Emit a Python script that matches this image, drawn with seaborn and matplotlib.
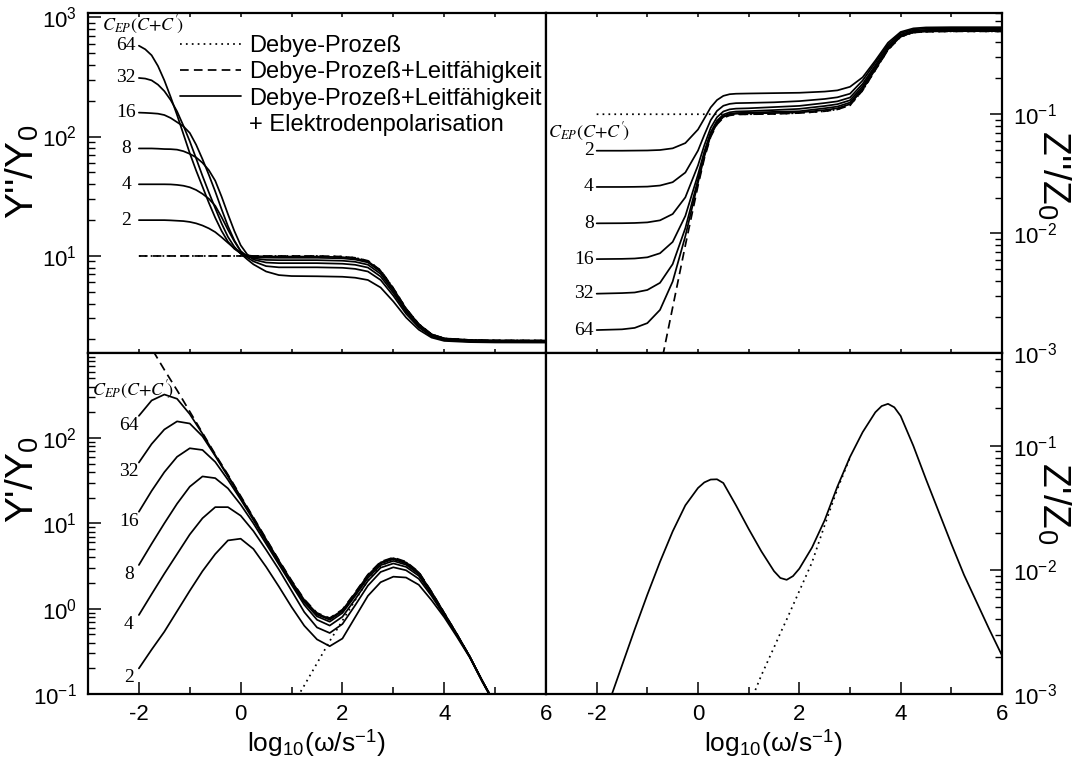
import numpy as np
import matplotlib
matplotlib.use("Agg")
import matplotlib.pyplot as plt
import seaborn as sns
from matplotlib.lines import Line2D
from matplotlib.ticker import FixedLocator, LogLocator, LogFormatterSciNotation, NullFormatter

sns.set_theme(style="ticks")
plt.rcParams["font.family"] = ["Liberation Sans", "DejaVu Sans"]
plt.rcParams["mathtext.fontset"] = "stix"
plt.rcParams["axes.unicode_minus"] = False
for k in ["axes.edgecolor", "text.color", "axes.labelcolor", "xtick.color", "ytick.color"]:
    plt.rcParams[k] = "black"

# ---------------- data (log10 of the plotted quantity) ----------------
CEP = [64, 32, 16, 8, 4, 2]
nan = float("nan")

# top-left: Y''/Y0
tl_x = [-2.0, -1.875, -1.75, -1.625, -1.5, -1.375, -1.25, -1.125, -1.0, -0.875, -0.75, -0.625, -0.5,
        -0.375, -0.25, -0.125, 0.0, 0.125, 0.25,
        0.5, 0.75, 1.0, 1.5, 2.0, 2.25, 2.5, 2.75, 3.0, 3.25, 3.5, 3.75, 4.0, 4.5, 5.0, 6.0]
tl_debye = [1.0, 1.0, 1.0, 1.0, 1.0, 1.0, 1.0, 1.0, 1.0, 1.0, 1.0, 1.0, 1.0, 1.0, 1.0, 1.0, 1.0, 1.0, 1.0,
            1.0, 1.0, 1.0, 1.0, 0.995, 0.985, 0.96, 0.88, 0.73, 0.56, 0.43, 0.345, 0.31, 0.297, 0.293, 0.292]
tl_cond = [1.0, 1.0, 1.0, 1.0, 1.0, 1.0, 1.0, 1.0, 1.0, 1.0, 1.0, 1.0, 1.0, 1.0, 1.0, 1.0, 1.0, 1.0, 1.0,
           1.0, 1.0, 1.0, 1.0, 0.995, 0.985, 0.96, 0.88, 0.73, 0.56, 0.43, 0.345, 0.31, 0.297, 0.293, 0.292]
tl_64 = [2.76, 2.73, 2.68, 2.59, 2.47, 2.33, 2.18, 2.02, 1.86, 1.715, 1.58, 1.445, 1.32,
         1.21, 1.12, 1.06, 1.025, 1.006, 0.999,
         0.996, 0.995, 0.995, 0.995, 0.990, 0.980, 0.956, 0.875, 0.727, 0.558, 0.429, 0.345, 0.310, 0.297, 0.293, 0.292]
tl_32 = [2.49, 2.485, 2.47, 2.434, 2.38, 2.305, 2.21, 2.09, 1.96, 1.816, 1.67, 1.532, 1.40,
         1.272, 1.16, 1.077, 1.02, 0.997, 0.99,
         0.986, 0.985, 0.985, 0.985, 0.980, 0.970, 0.946, 0.867, 0.720, 0.553, 0.426, 0.342, 0.307, 0.295, 0.291, 0.290]
tl_16 = [2.20, 2.198, 2.195, 2.191, 2.18, 2.155, 2.12, 2.085, 2.03, 1.931, 1.81, 1.679, 1.54,
         1.391, 1.25, 1.131, 1.04, 0.998, 0.98,
         0.967, 0.965, 0.965, 0.965, 0.960, 0.951, 0.927, 0.850, 0.707, 0.543, 0.419, 0.338, 0.304, 0.292, 0.288, 0.287]
tl_8 = [1.90, 1.90, 1.90, 1.898, 1.895, 1.894, 1.89, 1.877, 1.855, 1.825, 1.78, 1.718, 1.63,
        1.497, 1.35, 1.21, 1.09, 1.015, 0.97,
        0.945, 0.94, 0.94, 0.94, 0.935, 0.926, 0.903, 0.828, 0.690, 0.532, 0.412, 0.333, 0.300, 0.289, 0.285, 0.284]
tl_4 = [1.60, 1.60, 1.60, 1.60, 1.60, 1.599, 1.595, 1.588, 1.575, 1.5525, 1.52, 1.479, 1.42,
        1.325, 1.22, 1.123, 1.04, 0.989, 0.955,
        0.915, 0.905, 0.905, 0.905, 0.901, 0.892, 0.870, 0.799, 0.667, 0.516, 0.402, 0.327, 0.296, 0.284, 0.281, 0.280]
tl_2 = [1.30, 1.30, 1.30, 1.30, 1.30, 1.298, 1.295, 1.292, 1.285, 1.273, 1.255, 1.231, 1.20,
        1.157, 1.11, 1.065, 1.02, 0.973, 0.93,
        0.87, 0.84, 0.832, 0.83, 0.826, 0.818, 0.799, 0.736, 0.619, 0.485, 0.383, 0.317, 0.289, 0.279, 0.276, 0.275]

# top-right: Z''/Z0
tr_x = [-2.0, -1.5, -1.25, -1.0, -0.75, -0.5, -0.25, 0.0, 0.125, 0.25, 0.375, 0.5, 0.625, 0.75,
        1.0, 1.5, 2.0, 2.5, 2.75, 3.0, 3.25, 3.5, 3.75, 4.0, 4.25, 4.5, 5.0, 6.0]
tr_debye = [-1.0, -1.0, -1.0, -1.0, -1.0, -1.0, -1.0, -1.0, -1.0, -1.0, -1.0, -1.0, -1.0, -1.0,
            -1.0, -0.998, -0.99, -0.975, -0.96, -0.925, -0.80, -0.63, -0.46, -0.35, -0.315, -0.308, -0.305, -0.305]
tr_cond = [nan, nan, nan, nan, -3.14, -2.62, -2.10, -1.60, -1.37, -1.19, -1.085, -1.03, -1.01, -1.003,
           -1.0, -0.998, -0.99, -0.975, -0.96, -0.925, -0.80, -0.63, -0.46, -0.35, -0.315, -0.308, -0.305, -0.305]
tr_64 = [-2.81, -2.804, -2.792, -2.752, -2.641, -2.403, -2.023, -1.574, -1.354, -1.179, -1.077, -1.023, -1.003, -0.996,
         -0.993, -0.99, -0.985, -0.965, -0.95, -0.916, -0.792, -0.624, -0.456, -0.348, -0.313, -0.306, -0.303, -0.303]
tr_32 = [-2.505, -2.50, -2.495, -2.474, -2.414, -2.257, -1.956, -1.549, -1.339, -1.169, -1.069, -1.016, -0.997, -0.99,
         -0.987, -0.98, -0.975, -0.95, -0.936, -0.902, -0.781, -0.615, -0.45, -0.344, -0.31, -0.303, -0.30, -0.30]
tr_16 = [-2.215, -2.213, -2.21, -2.20, -2.166, -2.071, -1.853, -1.506, -1.312, -1.151, -1.054, -1.003, -0.984, -0.977,
         -0.974, -0.965, -0.955, -0.931, -0.916, -0.883, -0.765, -0.603, -0.442, -0.338, -0.305, -0.298, -0.295, -0.295]
tr_8 = [-1.915, -1.914, -1.912, -1.907, -1.89, -1.837, -1.697, -1.429, -1.26, -1.115, -1.025, -0.977, -0.959, -0.953,
        -0.95, -0.94, -0.93, -0.906, -0.892, -0.86, -0.745, -0.589, -0.432, -0.332, -0.299, -0.293, -0.29, -0.29]
tr_4 = [-1.61, -1.61, -1.609, -1.607, -1.598, -1.57, -1.489, -1.305, -1.173, -1.05, -0.972, -0.929, -0.913, -0.907,
        -0.905, -0.90, -0.89, -0.872, -0.858, -0.828, -0.717, -0.567, -0.417, -0.32, -0.289, -0.282, -0.28, -0.28]
tr_2 = [-1.306, -1.306, -1.305, -1.304, -1.30, -1.286, -1.242, -1.128, -1.036, -0.943, -0.881, -0.846, -0.832, -0.828,
        -0.826, -0.823, -0.82, -0.81, -0.80, -0.77, -0.69, -0.55, -0.40, -0.31, -0.28, -0.272, -0.27, -0.27]

# bottom-left: Y'/Y0
bl_x = [-2.0, -1.75, -1.5, -1.25, -1.0, -0.75, -0.5, -0.25, 0.0, 0.25, 0.5, 0.75, 1.0, 1.25, 1.5,
        1.75, 2.0, 2.25, 2.5, 2.75, 3.0, 3.25, 3.5, 3.75, 4.0, 4.25, 4.5, 4.75, 5.0]
bl_debye = [nan, nan, nan, nan, nan, nan, nan, nan, nan, nan, nan, nan, -1.15, -0.90, -0.64,
            -0.38, -0.14, 0.10, 0.33, 0.50, 0.58, 0.54, 0.425, 0.195, -0.05, -0.30, -0.56, -0.85, -1.12]
bl_cond = [3.30, 3.05, 2.80, 2.56, 2.31, 2.06, 1.81, 1.57, 1.32, 1.07, 0.82, 0.57, 0.33, 0.11, -0.05,
           -0.11, -0.01, 0.19, 0.40, 0.55, 0.60, 0.55, 0.43, 0.20, -0.05, -0.30, -0.56, -0.85, -1.12]
bl_64 = [2.26, 2.44, 2.51, 2.46, 2.28, 2.05, 1.80, 1.56, 1.31, 1.062, 0.812, 0.562, 0.322, 0.102, -0.058,
         -0.118, -0.018, 0.182, 0.392, 0.542, 0.592, 0.542, 0.424, 0.196, -0.052, -0.30, -0.56, -0.85, -1.12]
bl_32 = [1.713, 1.93, 2.10, 2.195, 2.17, 2.02, 1.79, 1.55, 1.30, 1.05, 0.80, 0.55, 0.31, 0.09, -0.07,
         -0.13, -0.03, 0.17, 0.38, 0.53, 0.58, 0.53, 0.415, 0.19, -0.055, -0.30, -0.56, -0.85, -1.12]
bl_16 = [1.136, 1.38, 1.60, 1.78, 1.88, 1.86, 1.72, 1.51, 1.28, 1.04, 0.79, 0.54, 0.30, 0.075, -0.09,
         -0.153, -0.05, 0.15, 0.36, 0.51, 0.56, 0.515, 0.405, 0.185, -0.06, -0.305, -0.56, -0.85, -1.12]
bl_8 = [0.512, 0.76, 1.0, 1.23, 1.43, 1.55, 1.53, 1.41, 1.22, 1.0, 0.76, 0.52, 0.28, 0.045, -0.13,
        -0.198, -0.095, 0.11, 0.325, 0.48, 0.53, 0.49, 0.385, 0.17, -0.07, -0.31, -0.56, -0.85, -1.12]
bl_4 = [-0.074, 0.17, 0.41, 0.64, 0.87, 1.06, 1.19, 1.19, 1.09, 0.91, 0.69, 0.46, 0.21, -0.04, -0.22,
        -0.285, -0.18, 0.04, 0.27, 0.43, 0.485, 0.45, 0.35, 0.15, -0.08, -0.315, -0.565, -0.85, -1.12]
bl_2 = [-0.70, -0.48, -0.27, -0.03, 0.21, 0.44, 0.64, 0.80, 0.82, 0.70, 0.49, 0.26, 0.02, -0.20, -0.36,
        -0.44, -0.35, -0.10, 0.15, 0.31, 0.375, 0.365, 0.28, 0.10, -0.10, -0.33, -0.57, -0.86, -1.13]

# bottom-right: Z'/Z0
br_x = [-2.0, -1.75, -1.5, -1.25, -1.0, -0.75, -0.5, -0.25, 0.0, 0.125, 0.25, 0.375, 0.5, 0.75,
        1.0, 1.25, 1.5, 1.625, 1.75, 1.875, 2.0, 2.25, 2.5, 2.75, 3.0, 3.25, 3.5, 3.625, 3.75,
        3.875, 4.0, 4.25, 4.5, 4.75, 5.0, 5.25, 5.5, 5.75, 6.0]
br_total = [-3.35, -3.06, -2.77, -2.48, -2.20, -1.935, -1.69, -1.48, -1.34, -1.295, -1.272, -1.27, -1.30, -1.48,
            -1.67, -1.85, -2.01, -2.065, -2.08, -2.05, -1.99, -1.82, -1.60, -1.33, -1.09, -0.89, -0.73, -0.68, -0.662,
            -0.69, -0.76, -1.00, -1.27, -1.53, -1.79, -2.04, -2.26, -2.48, -2.69]
br_debye = [nan, nan, nan, nan, nan, nan, nan, nan, nan, nan, nan, nan, nan, nan,
            -3.10, -2.85, -2.625, -2.51, -2.40, -2.285, -2.17, -1.94, -1.64, -1.35, -1.095, nan, nan, nan, nan,
            nan, nan, nan, nan, nan, nan, nan, nan, nan, nan]

# label texts
TL_LEGEND = ["Debye-Prozeß", "Debye-Prozeß+Leitfähigkeit", "Debye-Prozeß+Leitfähigkeit", "+ Elektrodenpolarisation"]
CEP_LABEL = r"$C_{EP}(C{+}C'\!)$"
X_LABEL = "log$_\\mathregular{10}$(ω/s$^\\mathregular{-1}$)"

tl_curves = dict(zip(CEP, [tl_64, tl_32, tl_16, tl_8, tl_4, tl_2]))
tr_curves = dict(zip(CEP, [tr_64, tr_32, tr_16, tr_8, tr_4, tr_2]))
bl_curves = dict(zip(CEP, [bl_64, bl_32, bl_16, bl_8, bl_4, bl_2]))

DOT = (0, (1.0, 2.4))
DASH = (0, (5.0, 3.0))
LW = 1.25

# ---------------- figure ----------------
W, H = 1085, 760
fig = plt.figure(figsize=(W / 100, H / 100), dpi=100)
fig.patch.set_facecolor("white")


def rect(x0, x1, y0, y1):
    return [x0 / W, 1 - y1 / H, (x1 - x0) / W, (y1 - y0) / H]


ax_tl = fig.add_axes(rect(88, 546, 13, 352.7))
ax_tr = fig.add_axes(rect(546, 1002, 13, 352.7))
ax_bl = fig.add_axes(rect(88, 546, 352.7, 694))
ax_br = fig.add_axes(rect(546, 1002, 352.7, 694))


def draw(ax, x, logy, ls):
    x = np.asarray(x, float)
    y = np.asarray(logy, float)
    m = ~np.isnan(y)
    sns.lineplot(x=x[m], y=np.power(10.0, y[m]), ax=ax, color="black", linewidth=LW,
                 linestyle=ls, estimator=None, sort=False, legend=False)


for ax in (ax_tl, ax_tr, ax_bl, ax_br):
    ax.set_yscale("log")
    ax.set_facecolor("white")

# top-left
draw(ax_tl, tl_x, tl_debye, DOT)
draw(ax_tl, tl_x, tl_cond, DASH)
for c in CEP:
    draw(ax_tl, tl_x, tl_curves[c], "-")
    ax_tl.text(-2.25, 10 ** tl_curves[c][0], str(c), ha="center", va="center",
               family="Liberation Serif", fontsize=14)
ax_tl.text(-2.72, 10 ** 2.93, CEP_LABEL, ha="left", va="center", fontsize=13)
ax_tl.set_ylim(1.55, 1081)

handles = [Line2D([], [], color="black", lw=LW, linestyle=DOT),
           Line2D([], [], color="black", lw=LW, linestyle=DASH),
           Line2D([], [], color="black", lw=LW, linestyle="-"),
           Line2D([], [], color="none")]
ax_tl.legend(handles, TL_LEGEND, loc="upper left", bbox_to_anchor=(0.2, 0.935), frameon=False,
             fontsize=17, handlelength=2.6, handletextpad=0.35, labelspacing=0.18,
             borderpad=0, borderaxespad=0)

# top-right
draw(ax_tr, tr_x, tr_debye, DOT)
draw(ax_tr, tr_x, tr_cond, DASH)
for c in CEP:
    draw(ax_tr, tr_x, tr_curves[c], "-")
    ax_tr.text(-2.06, 10 ** tr_curves[c][0], str(c), ha="right", va="center",
               family="Liberation Serif", fontsize=14)
ax_tr.text(-2.96, 10 ** -1.146, CEP_LABEL, ha="left", va="center", fontsize=13)
ax_tr.set_ylim(1e-3, 10 ** -0.151)

# bottom-left
draw(ax_bl, bl_x, bl_debye, DOT)
draw(ax_bl, bl_x, bl_cond, DASH)
for c in CEP:
    draw(ax_bl, bl_x, bl_curves[c], "-")
    ax_bl.text(-2.2, 10 ** (bl_curves[c][0] - 0.11), str(c), ha="center", va="center",
               family="Liberation Serif", fontsize=14)
ax_bl.text(-2.93, 10 ** 2.56, CEP_LABEL, ha="left", va="center", fontsize=13)
ax_bl.set_ylim(0.1, 1000)

# bottom-right
draw(ax_br, br_x, br_debye, DOT)
draw(ax_br, br_x, br_total, "-")
ax_br.set_ylim(1e-3, 10 ** -0.25)

# ---------------- axes styling ----------------
major_y = {ax_tl: [10, 100, 1000], ax_tr: [1e-3, 1e-2, 1e-1],
           ax_bl: [0.1, 1, 10, 100], ax_br: [1e-3, 1e-2, 1e-1]}
for ax in (ax_tl, ax_tr, ax_bl, ax_br):
    ax.set_xlim(-3, 6)
    for s in ax.spines.values():
        s.set_linewidth(1.6)
        s.set_color("black")
    ax.yaxis.set_major_locator(FixedLocator(major_y[ax]))
    ax.yaxis.set_major_formatter(LogFormatterSciNotation())
    ax.yaxis.set_minor_locator(LogLocator(base=10, subs=np.arange(2, 10)))
    ax.yaxis.set_minor_formatter(NullFormatter())
    ax.set_xlabel("")
    ax.set_ylabel("")

for ax in (ax_tl, ax_tr):
    ax.set_xticks(np.arange(-3, 7, 1))
    ax.xaxis.set_minor_locator(FixedLocator([]))
    ax.tick_params(axis="x", which="major", direction="in", length=3, width=1.1,
                   top=True, bottom=True, labelbottom=False)
for ax in (ax_bl, ax_br):
    ax.set_xticks([-2, 0, 2, 4, 6])
    ax.set_xticks([-3, -1, 1, 3, 5], minor=True)
    ax.tick_params(axis="x", which="major", direction="in", length=9, width=1.1,
                   labelsize=16, pad=7, top=False)
    ax.tick_params(axis="x", which="minor", direction="in", length=5, width=1.1, top=False)
    ax.set_xlabel(X_LABEL, fontsize=19, labelpad=2)

for ax in (ax_tl, ax_bl):
    ax.tick_params(axis="y", which="major", direction="in", length=9, width=1.1,
                   left=True, right=False, labelsize=16, pad=8)
    ax.tick_params(axis="y", which="minor", direction="in", length=5, width=1.0,
                   left=True, right=False)
for ax in (ax_tr, ax_br):
    ax.yaxis.tick_right()
    ax.yaxis.set_label_position("right")
    ax.tick_params(axis="y", which="major", direction="in", length=9, width=1.1,
                   left=False, right=True, labelleft=False, labelright=True, labelsize=16, pad=8)
    ax.tick_params(axis="y", which="minor", direction="in", length=5, width=1.0,
                   left=False, right=True)

ax_tl.set_ylabel("Y''/Y$_\\mathregular{0}$", fontsize=28)
ax_tl.yaxis.set_label_coords(-0.1, 0.533)
ax_bl.set_ylabel("Y'/Y$_\\mathregular{0}$", fontsize=28)
ax_bl.yaxis.set_label_coords(-0.1, 0.627)
ax_tr.set_ylabel("Z''/Z$_\\mathregular{0}$", fontsize=28, rotation=270, va="center")
ax_tr.yaxis.set_label_coords(1.112, 0.523)
ax_br.set_ylabel("Z'/Z$_\\mathregular{0}$", fontsize=28, rotation=270, va="center")
ax_br.yaxis.set_label_coords(1.112, 0.56)

fig.savefig("out.png", dpi=100, facecolor="white")
